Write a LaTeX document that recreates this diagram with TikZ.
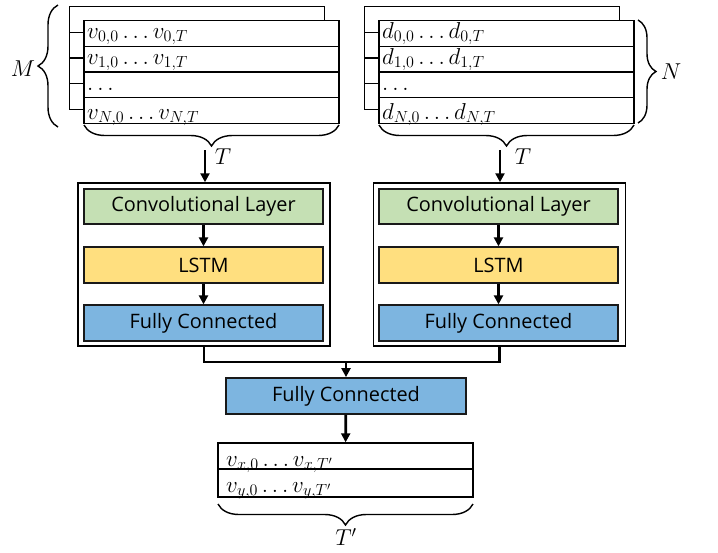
\documentclass[tikz,border=0pt]{standalone}
\usepackage{fix-cm}
\usepackage[no-math]{fontspec}
\newfontfamily\labfont{Open Sans}
\usetikzlibrary{arrows.meta,decorations.pathreplacing}
\definecolor{convgreen}{HTML}{C5E0B4}
\definecolor{lstmyellow}{HTML}{FFDF7F}
\definecolor{fcblue}{HTML}{7DB5E0}
\begin{document}
\begin{tikzpicture}[x=1pt,y=-1pt,
  layer/.style={draw=black!90, line width=1.8pt, minimum width=239pt, minimum height=35.5pt,
    inner sep=0pt, font=\labfont\fontsize{19.9}{22}\selectfont},
  outer/.style={draw, line width=1.5pt, minimum width=252pt, minimum height=163pt, inner sep=0pt},
  row/.style={draw, line width=1.4pt, fill=white, minimum width=255pt, minimum height=25.75pt, inner sep=0pt},
  mtxt/.style={inner sep=0pt, font=\fontsize{23}{26}\selectfont},
  conn/.style={line width=2.8pt},
  arr/.style={line width=2.8pt, -{Triangle[length=9pt,width=9pt]}},
  brc/.style={line width=1.4pt, decorate, decoration={brace, amplitude=#1}},
]
\useasboundingbox (0,0) rectangle (718,552);
% ---------------- left stack ----------------
\node[row] (lb0) at (197,19.4) {};
\node[row] (lb1) at (197,45.1) {};
\node[row] (lb2) at (197,70.9) {};
\node[row] (lb3) at (197,96.6) {};
\node[row] (lf0) at (211.5,33.4) {};
\node[row] (lf1) at (211.5,59.1) {};
\node[row] (lf2) at (211.5,84.9) {};
\node[row] (lf3) at (211.5,110.6) {};
\node[mtxt, anchor=base west] (lt0) at (87,38.5) {$v_{0,0}\,{\ldots}\,v_{0,T}$};
\node[mtxt, anchor=base west] (lt1) at (87,64.5) {$v_{1,0}\,{\ldots}\,v_{1,T}$};
\node[mtxt, anchor=base west] (lt2) at (87,90) {${\ldots}$};
\node[mtxt, anchor=base west] (lt3) at (87,119.5) {$v_{N,0}\,{\ldots}\,v_{N,T}$};
\draw[brc=20pt] (58,127) -- (58,5);
\node[mtxt] (M) at (23,69) {$M$};
\draw[brc=21pt] (339,125) -- (84,125);
\coordinate (lst) at (205,150);
\node[mtxt] (lT) at (223,157) {$T$};
% ---------------- right stack ----------------
\node[row] (rb0) at (492,19.4) {};
\node[row] (rb1) at (492,45.1) {};
\node[row] (rb2) at (492,70.9) {};
\node[row] (rb3) at (492,96.6) {};
\node[row] (rf0) at (506.5,33.4) {};
\node[row] (rf1) at (506.5,59.1) {};
\node[row] (rf2) at (506.5,84.9) {};
\node[row] (rf3) at (506.5,110.6) {};
\node[mtxt, anchor=base west] (rt0) at (382,38.5) {$d_{0,0}\,{\ldots}\,d_{0,T}$};
\node[mtxt, anchor=base west] (rt1) at (382,64.5) {$d_{1,0}\,{\ldots}\,d_{1,T}$};
\node[mtxt, anchor=base west] (rt2) at (382,90) {${\ldots}$};
\node[mtxt, anchor=base west] (rt3) at (382,119.5) {$d_{N,0}\,{\ldots}\,d_{N,T}$};
\draw[brc=18pt] (638,20) -- (638,123);
\node[mtxt] (N) at (671,72) {$N$};
\draw[brc=21pt] (634,125) -- (379,125);
\coordinate (rst) at (500,150);
\node[mtxt] (rT) at (523,157) {$T$};
% ---------------- left branch ----------------
\node[outer] (lbox) at (204,264.5) {};
\node[layer, fill=convgreen] (lconv) at (203.5,206.5) {Convolutional Layer};
\node[layer, fill=lstmyellow] (llstm) at (203.5,265) {LSTM};
\node[layer, fill=fcblue] (lfc) at (203.5,323) {Fully Connected};
% ---------------- right branch ----------------
\node[outer] (rbox) at (499.5,264.5) {};
\node[layer, fill=convgreen] (rconv) at (498.5,206.5) {Convolutional Layer};
\node[layer, fill=lstmyellow] (rlstm) at (498.5,265) {LSTM};
\node[layer, fill=fcblue] (rfc) at (498.5,323) {Fully Connected};
% ---------------- merge ----------------
\node[layer, fill=fcblue, minimum width=240pt, minimum height=36pt] (fc) at (346,396) {Fully Connected};
\node[row, minimum height=26pt] (ox) at (345.5,456) {};
\node[row, minimum height=28pt] (oy) at (345.5,483) {};
\node[mtxt, anchor=base west] (oxt) at (226,466) {$v_{x,0}\,{\ldots}\,v_{x,T'}$};
\node[mtxt, anchor=base west] (oyt) at (226,492) {$v_{y,0}\,{\ldots}\,v_{y,T'}$};
\draw[brc=21pt] (473,504) -- (218,504);
\node[mtxt] (Tp) at (346,537) {$T'$};
\coordinate (join) at (346,362);
% ---------------- connectors ----------------
\draw[arr] (lst) -- (lst |- lbox.north);
\draw[arr] (rst) -- (rst |- rbox.north);
\draw[arr] (lconv) -- (llstm);
\draw[arr] (llstm) -- (lfc);
\draw[arr] (rconv) -- (rlstm);
\draw[arr] (rlstm) -- (rfc);
\draw[conn] (lbox.south) |- (join);
\draw[conn] (rbox.south) |- (join);
\draw[arr] (join) -- (fc.north);
\draw[arr] (fc) -- (ox);
\end{tikzpicture}
\end{document}
